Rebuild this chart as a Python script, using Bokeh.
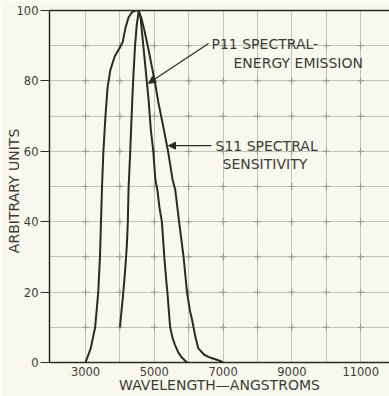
import numpy as np
from bokeh.plotting import figure
from bokeh.models import FixedTicker, Label, Arrow, NormalHead, Range1d, LinearAxis
from bokeh.embed import file_html
from bokeh.resources import INLINE

# ---- data ----
s11_wl = [3000, 3150, 3280, 3370, 3420, 3450, 3480, 3520, 3580, 3640, 3720, 3850,
          3970, 4080, 4160, 4250, 4350, 4450, 4530, 4620, 4720, 4830, 4930, 5030,
          5115, 5260, 5400, 5530, 5610, 5720, 5850, 5890, 5950, 6030, 6100, 6200,
          6280, 6450, 6620, 6900, 7000]
s11_val = [0, 4, 10, 20, 30, 40, 50, 60, 70, 78, 83, 87,
           89, 91, 95, 98, 99.5, 100, 100, 98, 94, 89, 84, 79,
           74, 67, 60, 52, 49, 40, 30, 26, 20, 15, 12, 7,
           4, 2.2, 1.4, 0.5, 0]

p11_wl = [4000, 4050, 4100, 4150, 4200, 4230, 4250, 4300, 4340, 4370, 4400, 4440,
          4490, 4550, 4600, 4680, 4770, 4830, 4900, 4970, 5030, 5090, 5150, 5220,
          5290, 5350, 5380, 5460, 5530, 5600, 5700, 5800, 5950]
p11_val = [10, 15, 20, 26, 33, 40, 49, 60, 70, 77, 83, 90,
           96, 100, 98, 90, 81, 75, 66, 60, 52, 49, 44, 40,
           30, 23, 20, 10, 7, 5, 2.8, 1.4, 0]

x_tick_labels = [3000, 5000, 7000, 9000, 11000]
x_grid = [3000, 4000, 5000, 6000, 7000, 8000, 9000, 10000, 11000]
y_tick_labels = [0, 20, 40, 60, 80, 100]
y_grid = [10, 20, 30, 40, 50, 60, 70, 80, 90]

ink = "#2b2b26"
txt = "#3c3c36"
bg = "#f8f8ef"
font = "DejaVu Sans"

p = figure(width=389, height=396, output_backend="svg", toolbar_location=None,
           x_range=Range1d(1953, 11837), y_range=Range1d(0, 100),
           min_border_left=49, min_border_right=0, min_border_top=10, min_border_bottom=34,
           background_fill_color=bg, border_fill_color=bg)

p.outline_line_color = None

xa = p.below[0]
ya = p.left[0]

# top border line (no right border: the original is cut at the right)
top = LinearAxis(ticker=FixedTicker(ticks=[]), axis_line_color=ink, axis_line_width=1.5,
                 major_tick_line_color=None, minor_tick_line_color=None,
                 major_label_text_color=None, major_label_text_font_size="0px",
                 major_tick_out=0, major_tick_in=0, major_label_standoff=0)
p.add_layout(top, "above")

# grids
p.xgrid.ticker = FixedTicker(ticks=x_grid)
p.ygrid.ticker = FixedTicker(ticks=y_grid)
for g in (p.xgrid, p.ygrid):
    g.grid_line_color = "#c4c4b8"
    g.grid_line_width = 1

# small crosses at grid intersections
gx, gy = np.meshgrid(x_grid, y_grid)
p.scatter(gx.ravel(), gy.ravel(), marker="cross", size=7,
          line_color="#9a9a90", line_width=1)

# axes
xa.ticker = FixedTicker(ticks=x_tick_labels)
ya.ticker = FixedTicker(ticks=y_tick_labels)
for ax in (xa, ya):
    ax.axis_line_color = ink
    ax.axis_line_width = 1.5
    ax.major_tick_line_color = ink
    ax.minor_tick_line_color = None
    ax.major_label_text_font = font
    ax.major_label_text_font_size = "11.5px"
    ax.major_label_text_color = txt
    ax.axis_label_text_font = font
    ax.axis_label_text_font_style = "normal"
    ax.axis_label_text_color = txt

xa.major_tick_out = 0
xa.major_tick_in = 0
xa.major_label_standoff = 4
xa.axis_label = "WAVELENGTH\u2014ANGSTROMS"
xa.axis_label_text_font_size = "14px"
xa.axis_label_standoff = -2

ya.major_tick_out = 9
ya.major_tick_in = 0
ya.major_label_standoff = 2
ya.axis_label = "ARBITRARY   UNITS"
ya.axis_label_text_font_size = "14px"
ya.axis_label_standoff = -8

# curves
p.line(s11_wl, s11_val, line_color=ink, line_width=2)
p.line(p11_wl, p11_val, line_color=ink, line_width=2)

# annotations
ann_font = "14px"
for t, x, y in [("P11 SPECTRAL-", 6663, 90.6), ("ENERGY EMISSION", 7302, 85.2),
                ("S11 SPECTRAL", 6779, 61.6), ("SENSITIVITY", 6983, 56.5)]:
    p.add_layout(Label(x=x, y=y, text=t, text_font=font, text_font_size=ann_font,
                       text_color=txt, text_baseline="middle", text_align="left"))

p.add_layout(Arrow(x_start=6576, y_start=90.6, x_end=4831, y_end=79.3,
                   line_color=ink, line_width=1.2,
                   end=NormalHead(size=7, fill_color=ink, line_color=ink)))
p.add_layout(Arrow(x_start=6660, y_start=61.6, x_end=5413, y_end=61.6,
                   line_color=ink, line_width=1.2,
                   end=NormalHead(size=7, fill_color=ink, line_color=ink)))

open("out.html", "w").write(file_html(p, INLINE))
